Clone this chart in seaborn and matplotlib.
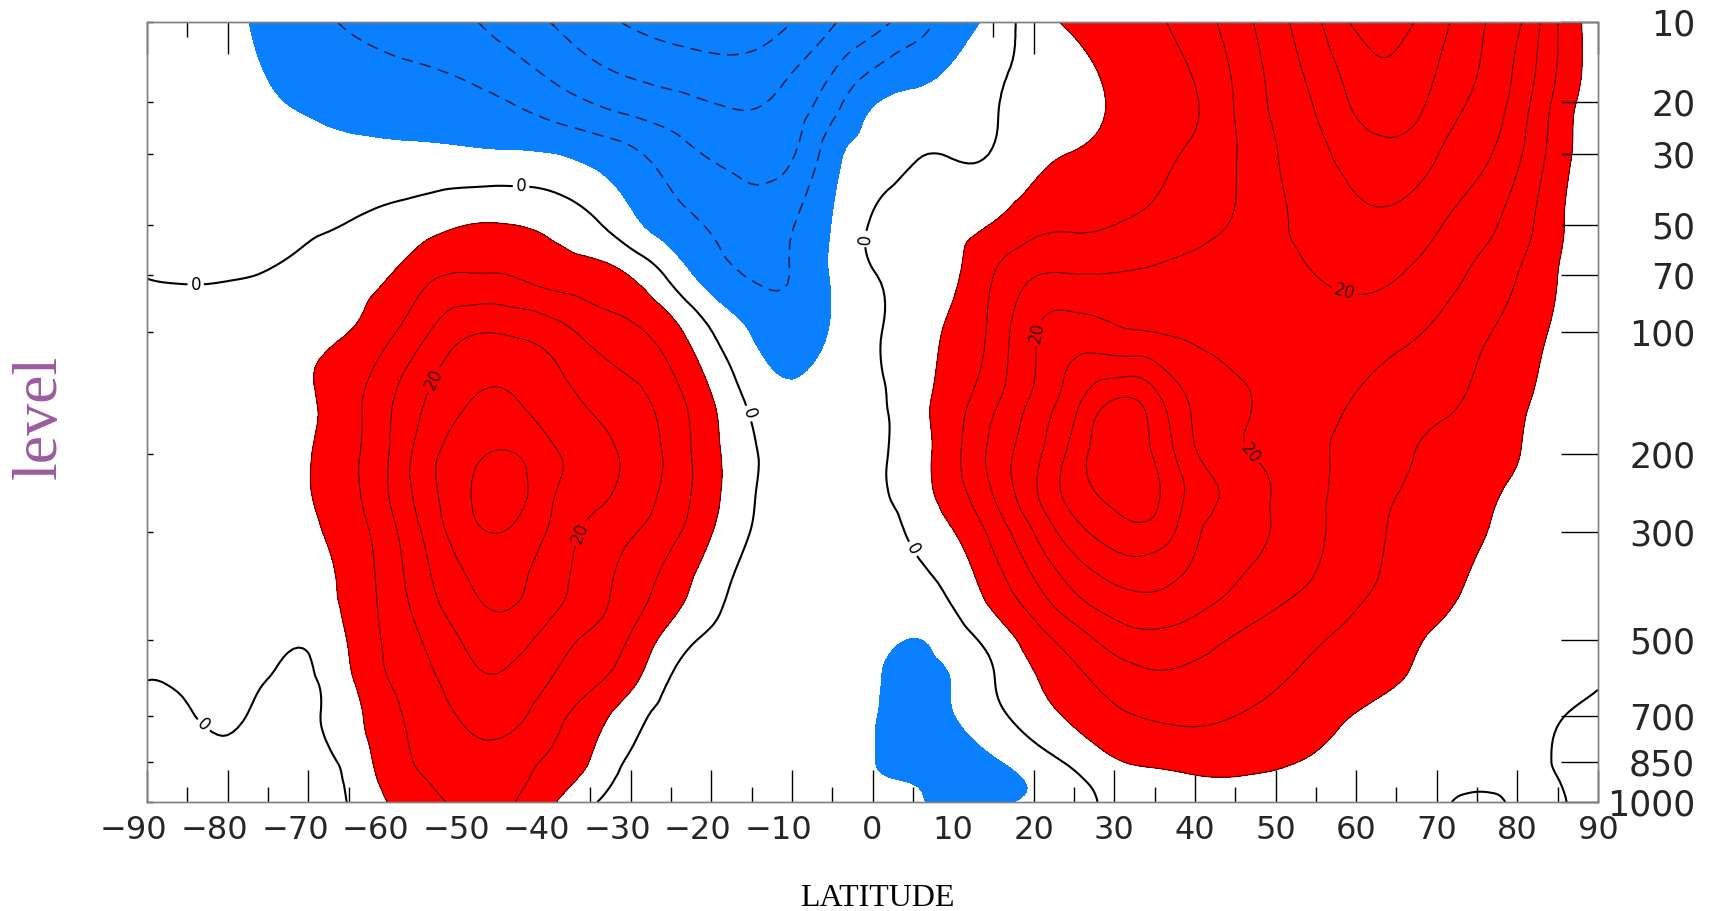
import numpy as np
import matplotlib
matplotlib.use('Agg')
import matplotlib.pyplot as plt
import matplotlib.tri as mtri
import matplotlib.transforms as mtransforms
import seaborn as sns
from matplotlib.ticker import FixedLocator, NullLocator

# latitude grid and pressure levels (hPa)
lats = [-90, -85, -80, -75, -70, -65, -60, -55, -50, -45, -40, -35, -30, -25, -20, -15, -10, -5,
        0, 5, 10, 15, 20, 25, 30, 35, 40, 45, 50, 55, 60, 65, 70, 75, 80, 85, 90]
levels = [1000, 925, 850, 700, 600, 500, 400, 300, 250, 200, 150, 100, 70, 50, 30, 20, 10]

# zonal wind (m/s), one row per pressure level
u1000 = [-2, -2.3, -2, -3, -2.8, 0.2, 5.2, 9, 11, 10.5, 5.8, 0.8, -3, -4, -4.5, -4.3, -3.5, -3,
         -4, -4.5, -6.2, -5.8, -4.2, -1.8, 1.2, 2.8, 3.8, 4, 3.5, 2.7, 1.5, 1, 0.5, -0.5, 0.3, 0.2, -0.8]
u925 = [-2, -2.2, -1.5, -2.5, -2.2, 0.6, 6.5, 10, 12, 11.5, 7.5, 3, -2, -3.5, -4.2, -4, -3.8, -3.2,
        -4.5, -5.1, -7, -6.5, -4.5, -1.2, 2, 3.5, 4.5, 4.6, 4.3, 3.5, 2, 1.5, 1, 0.4, 0.4, 0.05, -0.8]
u850 = [-1.7, -1.8, -0.6, -1.8, -1.5, 1.25, 7.5, 11, 13, 12.5, 9, 4.8, -0.8, -2.8, -3.8, -3.8, -4, -3.5,
        -4.8, -6.8, -7, -5.5, -2.5, 1, 4.5, 5.7, 6.2, 6.2, 5.5, 4.5, 3, 2, 1.5, 1, 0.5, -0.1, -0.7]
u700 = [-0.8, -0.3, 0.6, -1, -0.8, 3, 8.5, 12.5, 16, 16.5, 12, 7.5, 2, -1.8, -3.3, -3.5, -4, -3.5,
        -4.7, -6.5, -5.1, -1.5, 2.5, 6, 9, 10.5, 11, 10, 8.5, 6.8, 4.8, 3.8, 3, 1.8, 0.8, 0.1, -0.4]
u600 = [0, 0.4, 1.2, -0.1, -0.6, 4.1, 10, 14, 18.5, 19, 15, 11, 6.4, -0.3, -2.5, -3.5, -4, -3.5,
        -4.5, -6, -4.8, -0.2, 4.5, 8.5, 12, 14, 13.5, 12.5, 10.5, 8.8, 7, 5.2, 4, 2.5, 1.2, 0.6, 0.1]
u500 = [0.8, 1.2, 1.8, 1.5, 0.6, 5.3, 11, 16, 21, 22, 18, 14, 9.5, 2.8, -0.8, -3.3, -3.8, -3.3,
        -3.5, -5.1, -2.5, 1.8, 7.5, 12.5, 17, 18.5, 17, 14.5, 12.5, 10.5, 8.5, 6.5, 4.5, 3.5, 1.8, 1, 0.3]
u400 = [1.2, 1.8, 2.5, 2.8, 3, 6.3, 12, 19, 24.5, 26, 22, 17.5, 12.5, 7.5, 1.9, -2, -3.5, -3,
        -3.5, -2, 1, 7, 13.5, 20, 24, 25, 22.5, 19.5, 16.5, 14, 11, 8.5, 6.3, 4.2, 2.4, 1.3, 0.3]
u300 = [1.5, 2, 3, 3.5, 4.2, 7.3, 13.3, 21.7, 28.5, 29.5, 24.4, 18.8, 15.5, 11.4, 5.2, -0.2, -3.2, -2.5,
        -2.4, 0.8, 4.8, 11.5, 20, 28, 32.5, 33, 26, 22.5, 19.5, 16, 12, 9.5, 7.5, 5.6, 3.2, 1.8, 0.4]
u250 = [1.5, 2, 3, 3.8, 4.8, 8.3, 15, 23.3, 29.8, 32, 25.8, 21.5, 18, 13.1, 6.5, 0.5, -3, -2.5,
        -1.2, 2.4, 7.5, 15, 24, 32, 36.5, 36, 28, 23.5, 19.5, 16, 12.5, 10, 8.5, 6.5, 3.8, 2, 0.4]
u200 = [1.5, 2, 3, 4, 4.8, 8.5, 15, 23.5, 28.5, 30.3, 26.2, 22.2, 18.8, 13.6, 6.5, 0.8, -3, -2.5,
        -1, 2.5, 8.5, 16.5, 23.5, 32, 38, 34.5, 25.5, 21, 18.5, 16, 13, 10.8, 9, 7.5, 5.2, 2.5, 0.5]
u150 = [1.5, 2, 3, 4, 4.6, 8, 14.3, 20.7, 25, 25.5, 22.5, 19.5, 16.9, 12.2, 5.5, -1, -4, -2.5,
        -1, 2.8, 7.8, 14, 21, 28.5, 35.5, 32, 24, 21, 18.5, 17, 14.5, 12, 11, 9, 6, 3, 0.6]
u100 = [1.2, 1.8, 2.5, 3.3, 4, 5, 9, 15, 19.5, 19.5, 17.5, 13.5, 11, 7, 0.2, -5.2, -7.5, -4.5,
        -0.8, 2.5, 6, 11.5, 19.5, 22.5, 21, 20, 19, 17.5, 17, 17.5, 18, 16.5, 14, 11, 8, 4, 0.8]
u70 = [-0.1, -0.4, -0.3, 0.3, 1.8, 3.3, 4.9, 9.2, 10.3, 10, 8, 7, 4.8, -1.2, -7.3, -10.3, -9.8, -4.5,
       -0.3, 2, 4.3, 10, 14.8, 15.2, 15.3, 15.8, 16.5, 17, 18.3, 20, 21, 20.2, 17.5, 14, 10, 5, 1]
u50 = [-1.5, -1.6, -1.5, -1.4, -0.8, 0.2, 1.8, 3.5, 5.1, 5.1, 3.8, 1.2, -3.5, -7.6, -10.5, -12.5, -10.3, -4.8,
       0.5, 2.5, 3.5, 5.3, 8.5, 9.3, 10, 11.5, 13.5, 15.5, 19, 21.5, 23.5, 23.5, 20.5, 17, 12.5, 6, 1]
u30 = [-2, -2.5, -3, -3.3, -3.5, -3.8, -4, -4, -4.2, -4.4, -4.8, -6.5, -9, -12.5, -15.5, -17, -15.5, -7,
       -2.5, -0.4, -0.2, 0.3, 3.5, 5.2, 6.5, 8.5, 11, 14.8, 19.7, 23.8, 27, 28.5, 25.2, 21.5, 16, 7.5, 1.5]
u20 = [-2, -2.5, -3.5, -4.6, -5.5, -6.5, -7, -7.5, -8.5, -10, -12.5, -15, -17, -18.5, -20, -20.5, -18, -12,
       -5.5, -3.8, -2.5, -0.3, 1.5, 3.2, 5.5, 7.5, 9.6, 15.3, 21, 25.5, 31, 33, 28.5, 24, 18, 8.5, 2]
u10 = [-1, -2.5, -4, -6, -8.5, -10.5, -12, -13.5, -14.5, -17.5, -20, -23, -25.5, -27, -28, -28, -25, -20.5,
       -17, -12.5, -7.6, -3.5, 2.8, 5.8, 7.5, 9.3, 12.5, 17.5, 23, 29, 36, 36.5, 32, 26, 21, 10, 2]

xtick_vals = [-90, -80, -70, -60, -50, -40, -30, -20, -10, 0, 10, 20, 30, 40, 50, 60, 70, 80, 90]
ytick_vals = [10, 20, 30, 50, 70, 100, 200, 300, 500, 700, 850, 1000]

# where the contour labels sit (lat, hPa)
zero_label_at = [(-84, 80), (-43.6, 38), (-15.2, 160), (-0.7, 55), (5.8, 320), (-82, 700)]
twenty_label_at = [(-53.5, 135), (-36.5, 300), (20, 100), (48.3, 190), (59, 72)]

u = np.array([u1000, u925, u850, u700, u600, u500, u400, u300, u250,
              u200, u150, u100, u70, u50, u30, u20, u10])

sns.set_theme(style='white')
plt.rcParams['font.family'] = ['DejaVu Sans']
plt.rcParams['axes.unicode_minus'] = False


# pressure axis: spacing goes like p**0.18
def fwd(p):
    return np.power(np.clip(p, 1e-6, None), 0.18)


def inv(y):
    return np.power(np.clip(y, 1e-6, None), 1 / 0.18)


# smooth the grid in the plotted (lat, p**0.18) space
s0, s1 = fwd(10.0), fwd(1000.0)
LAT, P = np.meshgrid(lats, levels)
S = (fwd(P) - s0) / (s1 - s0) * 97
tri = mtri.Triangulation(LAT.ravel().astype(float), S.ravel())
tri_f, u_f = mtri.UniformTriRefiner(tri).refine_field(u.ravel(), subdiv=3)
p_f = inv(tri_f.y / 97 * (s1 - s0) + s0)
tri_p = mtri.Triangulation(tri_f.x, p_f, tri_f.triangles)

fig = plt.figure(figsize=(17.1, 9.11), dpi=100)
ax = fig.add_axes([0.086, 0.1196, 0.8485, 0.8562])
ax.set_yscale('function', functions=(fwd, inv))

ax.tricontourf(tri_p, u_f, levels=[-60, -5], colors=['#0a80ff'])
ax.tricontourf(tri_p, u_f, levels=[5, 60], colors=['#ff0000'])

neg = ax.tricontour(tri_p, u_f, levels=[-30, -25, -20, -15, -10], colors='#1a2550',
                    linewidths=1.2, linestyles=[(0, (7, 4.2))])
pos = ax.tricontour(tri_p, u_f, levels=[5, 10, 15, 25, 30, 35, 40],
                    colors='#3a0505', linewidths=0.7)
twenty = ax.tricontour(tri_p, u_f, levels=[20], colors='#3a0505', linewidths=0.7)
zero = ax.tricontour(tri_p, u_f, levels=[0], colors='black', linewidths=1.5)

ax.set_xlim(-90, 90)
ax.set_ylim(1000, 10)
ax.clabel(zero, fmt='0', fontsize=12, inline=True, inline_spacing=3, manual=zero_label_at)
ax.clabel(twenty, fmt='%d', fontsize=12, inline=True, inline_spacing=3, manual=twenty_label_at)

ax.xaxis.set_major_locator(FixedLocator(xtick_vals))
ax.xaxis.set_minor_locator(FixedLocator(list(range(-85, 90, 10))))
ax.set_xticklabels([('\u2212%d' % -v) if v < 0 else '%d' % v for v in xtick_vals])
ax.tick_params(axis='x', which='major', direction='in', length=23, width=1,
               top=True, bottom=True, labelsize=23, pad=9, color='black')
ax.tick_params(axis='x', which='minor', direction='in', length=11, width=1,
               top=True, bottom=True, color='black')
# digits sit on the tick, the minus sign hangs to the left
shift = mtransforms.ScaledTranslation(-9.6 / 72, 0, fig.dpi_scale_trans)
for v, lab in zip(xtick_vals, ax.get_xticklabels()):
    if v < 0:
        lab.set_transform(lab.get_transform() + shift)

ax.yaxis.set_major_locator(FixedLocator(ytick_vals))
ax.yaxis.set_minor_locator(NullLocator())
ax.set_yticklabels([])
ax.tick_params(axis='y', direction='in', length=4, width=1, left=True, right=False, color='black')

ax2 = ax.twinx()
ax2.set_yscale('function', functions=(fwd, inv))
ax2.set_ylim(1000, 10)
ax2.yaxis.set_major_locator(FixedLocator(ytick_vals))
ax2.yaxis.set_minor_locator(NullLocator())
ax2.set_yticklabels([str(v) for v in ytick_vals])
ax2.tick_params(axis='y', direction='in', length=27, width=1, labelsize=25, pad=70, color='black')
for lab in ax2.get_yticklabels():
    lab.set_horizontalalignment('right')

for a in (ax, ax2):
    for sp in a.spines.values():
        sp.set_color('#808080')
        sp.set_linewidth(1.0)
        sp.set_visible(True)

fig.text(0.024, 0.542, 'level', rotation=90, fontsize=46, color='#9b5c9f',
         family='Liberation Serif', ha='center', va='center')
fig.text(0.5129, 0.014, 'LATITUDE', fontsize=23, color='black',
         family='Liberation Serif', ha='center', va='center')

fig.savefig('out.png', dpi=100)
